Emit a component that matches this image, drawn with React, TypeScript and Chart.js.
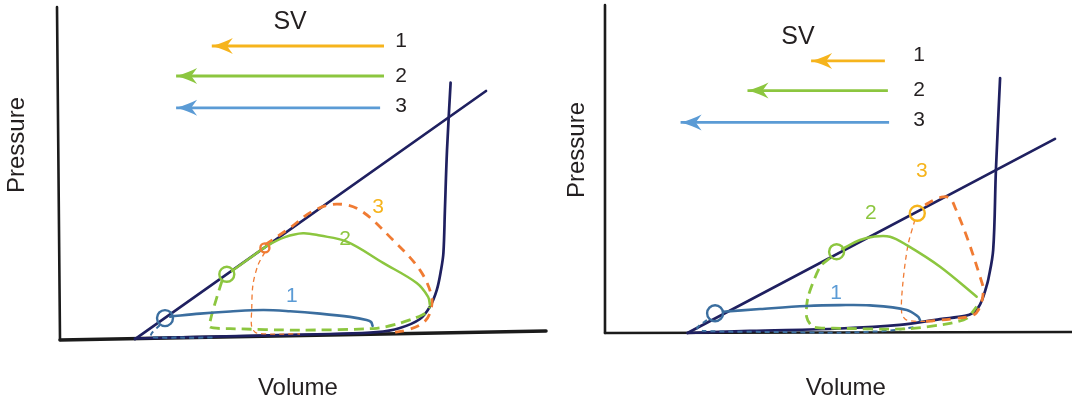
import { useEffect, useRef } from "react";
import { Chart, registerables } from "chart.js";

Chart.register(...registerables);

type Pt = [number, number];

const FONT = '"Liberation Sans", Arial, Helvetica, sans-serif';
const INK = "#231f20";
const AXIS = "#1b1b1b";
const NAVY = "#1f2060";
const GREEN = "#8cc63f";
const ORANGE = "#f07b33";
const YELLOW = "#f6b41c";
const ARROW_BLUE = "#5b9bd5";
const LOOP_BLUE = "#3b6e9f";
const LABEL_BLUE = "#5b9bd5";

// ---------- Left panel (volume, pressure) ----------
const L_X_AXIS: Pt[] = [[0, 0], [162, 3]];
const L_Y_AXIS: Pt[] = [[0, 0], [-1, 111]];
const L_ESPVR: Pt[] = [[25, 0.3], [142, 83]];
const L_EDPVR: Pt[] = [
  [25, 0.5], [63, 1.4], [90, 2], [105.6, 2.6], [113.3, 4], [120, 7], [123.3, 11.1],
  [125.6, 16.7], [127, 23.3], [127.8, 29], [128.3, 43.3], [129, 63.3], [130.2, 85.8],
];
const L_LOOP1_SOLID: Pt[] = [
  [36.7, 7.8], [46.7, 8.8], [56.7, 9.5], [67.7, 10], [76.7, 9.6], [86.7, 8.8],
  [96.7, 7.7], [102.2, 6.7], [103.7, 6], [104.2, 4.7],
];
const L_LOOP1_DASH: Pt[] = [[33.3, 5], [30.6, 2.3], [30.3, 1], [40, 0.8], [52, 0.8]];
const L_LOOP1_MARK: Pt[] = [[35, 7.3]];
const L_LOOP2_SOLID: Pt[] = [
  [57.3, 23], [63.3, 27.3], [68.9, 31.3], [75, 34.3], [81, 35.6], [86.7, 34.8],
  [95.6, 32.8], [107.7, 25.7], [118.9, 19], [122.7, 14.4], [123.3, 11.7],
];
const L_LOOP2_DASH: Pt[] = [
  [54, 19.7], [52, 13.3], [50.3, 7.3], [50, 4.3], [56.7, 3.8], [80, 3.3],
  [105.6, 3.9], [113.3, 5.6], [118.3, 7.3], [121.7, 8.9], [123.3, 11],
];
const L_LOOP2_MARK: Pt[] = [[55.6, 21.9]];
const L_LOOP3_DASH: Pt[] = [
  [68.3, 31.7], [76.7, 37.4], [84.3, 43], [92.2, 45.3], [100, 43.3], [111, 33.3],
  [120, 23.3], [123.9, 14.4], [123.3, 9], [121, 5.7], [115.6, 3.3], [110, 2.4],
];
const L_LOOP3_THIN: Pt[] = [[68.3, 29.3], [66, 25], [64.3, 18.3], [63.9, 10], [63.9, 4.4], [65.6, 2.3], [80, 2]];
const L_LOOP3_MARK: Pt[] = [[68.3, 30.7]];
const L_SV1: Pt[] = [[50.6, 98], [108, 98]];
const L_SV2: Pt[] = [[38.7, 88], [108, 88]];
const L_SV3: Pt[] = [[38.7, 77.4], [106.7, 77.4]];

// ---------- Right panel (volume, pressure) ----------
const R_X_AXIS: Pt[] = [[0, 0], [156, 0.3]];
const R_Y_AXIS: Pt[] = [[0, 0], [0, 109.3]];
const R_ESPVR: Pt[] = [[27.5, 0], [150, 64.7]];
const R_EDPVR: Pt[] = [
  [27.7, 0], [48.3, 0.7], [78.3, 1.5], [98.3, 2.7], [111.7, 4.6], [120, 5.7], [122.7, 6.7],
  [124.3, 8.3], [125.7, 11], [127, 15], [127.8, 18], [129.4, 27.7], [130.3, 54.1], [131.7, 85],
];
const R_LOOP1_SOLID: Pt[] = [
  [39.3, 7.1], [51.7, 8], [67.2, 9], [78.3, 9.3], [88.3, 9.2], [100.6, 7.7], [104.4, 5.4], [105, 4.3],
];
const R_LOOP1_DASH: Pt[] = [[34, 4.3], [30.7, 1.7], [32.7, 0.7], [60, 0.3], [78.3, 0.1], [95, 0.8], [104, 2.1]];
const R_LOOP1_MARK: Pt[] = [[36.7, 6.6]];
const R_LOOP2_SOLID: Pt[] = [
  [79, 28], [85, 31], [89.4, 32.1], [95, 32.1], [100.6, 29.3], [111.7, 22.1], [123.9, 12.1],
];
const R_LOOP2_DASH: Pt[] = [
  [75, 25], [71.7, 22.1], [67.7, 12.1], [67.2, 5.4], [69.3, 2.1], [76, 1.6],
  [100.6, 1.4], [115, 3.2], [120.6, 4.9], [123.9, 8.8],
];
const R_LOOP2_MARK: Pt[] = [[77.2, 27.1]];
const R_LOOP3_DASH: Pt[] = [
  [106.7, 42.7], [110, 44.5], [112.8, 45.4], [115, 45], [116.8, 41.6], [120.6, 32.1],
  [125, 18.8], [126.1, 14.3], [125, 8.8], [122.8, 6], [117.2, 4.9], [106, 3.8],
];
const R_LOOP3_THIN: Pt[] = [[103.3, 37.7], [101, 29.3], [99.3, 16.7], [98.9, 6.6], [100.6, 4.3], [109.3, 3.8]];
const R_LOOP3_MARK: Pt[] = [[104.1, 39.9]];
const R_SV1: Pt[] = [[68.7, 90.7], [93.3, 90.7]];
const R_SV2: Pt[] = [[47.5, 80.8], [94.3, 80.8]];
const R_SV3: Pt[] = [[25.2, 70.2], [94.7, 70.2]];

type Label = { text: string; at: Pt; color: string; size: number; rotate?: boolean };

const L_LABELS: Label[] = [
  { text: "SV", at: [76.7, 106], color: INK, size: 25 },
  { text: "1", at: [113.7, 99.7], color: INK, size: 21 },
  { text: "2", at: [113.7, 88], color: INK, size: 21 },
  { text: "3", at: [113.7, 78], color: INK, size: 21 },
  { text: "1", at: [77.3, 14.7], color: LABEL_BLUE, size: 21 },
  { text: "2", at: [95, 33.7], color: GREEN, size: 21 },
  { text: "3", at: [106, 44.4], color: YELLOW, size: 21 },
  { text: "Pressure", at: [-14.2, 65], color: INK, size: 24, rotate: true },
  { text: "Volume", at: [79.3, -16], color: INK, size: 24 },
];

const R_LABELS: Label[] = [
  { text: "SV", at: [64.3, 98.7], color: INK, size: 25 },
  { text: "1", at: [104.7, 92.7], color: INK, size: 21 },
  { text: "2", at: [104.7, 81], color: INK, size: 21 },
  { text: "3", at: [104.7, 71], color: INK, size: 21 },
  { text: "1", at: [77, 13.3], color: LABEL_BLUE, size: 21 },
  { text: "2", at: [88.6, 39.9], color: GREEN, size: 21 },
  { text: "3", at: [105.6, 53.8], color: YELLOW, size: 21 },
  { text: "Pressure", at: [-9.3, 61], color: INK, size: 24, rotate: true },
  { text: "Volume", at: [80.3, -18.3], color: INK, size: 24 },
];

type Panel = {
  width: number;
  xRange: [number, number];
  yRange: [number, number];
  xAxis: Pt[]; yAxis: Pt[]; xAxisWidth: number;
  espvr: Pt[]; edpvr: Pt[];
  loop1Solid: Pt[]; loop1Dash: Pt[]; loop1Mark: Pt[];
  loop2Solid: Pt[]; loop2Dash: Pt[]; loop2Mark: Pt[];
  loop3Dash: Pt[]; loop3Thin: Pt[]; loop3Mark: Pt[]; loop3MarkColor: string; loop3MarkRadius: number;
  sv1: Pt[]; sv2: Pt[]; sv3: Pt[];
  labels: Label[];
};

const LEFT: Panel = {
  width: 556, xRange: [-20, 165.33], yRange: [-22, 113.33],
  xAxis: L_X_AXIS, yAxis: L_Y_AXIS, xAxisWidth: 3.5,
  espvr: L_ESPVR, edpvr: L_EDPVR,
  loop1Solid: L_LOOP1_SOLID, loop1Dash: L_LOOP1_DASH, loop1Mark: L_LOOP1_MARK,
  loop2Solid: L_LOOP2_SOLID, loop2Dash: L_LOOP2_DASH, loop2Mark: L_LOOP2_MARK,
  loop3Dash: L_LOOP3_DASH, loop3Thin: L_LOOP3_THIN, loop3Mark: L_LOOP3_MARK,
  loop3MarkColor: ORANGE, loop3MarkRadius: 4.5,
  sv1: L_SV1, sv2: L_SV2, sv3: L_SV3,
  labels: L_LABELS,
};

const RIGHT: Panel = {
  width: 516, xRange: [-16.33, 155.67], yRange: [-24.33, 111],
  xAxis: R_X_AXIS, yAxis: R_Y_AXIS, xAxisWidth: 2.5,
  espvr: R_ESPVR, edpvr: R_EDPVR,
  loop1Solid: R_LOOP1_SOLID, loop1Dash: R_LOOP1_DASH, loop1Mark: R_LOOP1_MARK,
  loop2Solid: R_LOOP2_SOLID, loop2Dash: R_LOOP2_DASH, loop2Mark: R_LOOP2_MARK,
  loop3Dash: R_LOOP3_DASH, loop3Thin: R_LOOP3_THIN, loop3Mark: R_LOOP3_MARK,
  loop3MarkColor: YELLOW, loop3MarkRadius: 7.5,
  sv1: R_SV1, sv2: R_SV2, sv3: R_SV3,
  labels: R_LABELS,
};

const toXY = (pts: Pt[]) => pts.map(([x, y]) => ({ x, y }));

function line(pts: Pt[], color: string, width: number, extra: Record<string, unknown> = {}) {
  return {
    data: toXY(pts),
    showLine: true,
    borderColor: color,
    backgroundColor: color,
    borderWidth: width,
    pointRadius: 0,
    tension: 0.35,
    borderCapStyle: "round",
    borderJoinStyle: "round",
    ...extra,
  };
}

function marker(pts: Pt[], color: string, radius: number) {
  return {
    data: toXY(pts),
    showLine: false,
    pointRadius: radius,
    pointBorderWidth: 2.4,
    pointBorderColor: color,
    pointBackgroundColor: "rgba(0,0,0,0)",
  };
}

// Filled barbed arrowhead at the first point of any dataset flagged with arrowHead.
const arrowHeadPlugin = {
  id: "arrowHead",
  afterDatasetsDraw(chart: any) {
    const ctx = chart.ctx as CanvasRenderingContext2D;
    chart.data.datasets.forEach((ds: any, i: number) => {
      if (!ds.arrowHead) return;
      const meta = chart.getDatasetMeta(i);
      const tip = meta.data[0];
      const from = meta.data[1];
      const ang = Math.atan2(tip.y - from.y, tip.x - from.x);
      const L = 21;
      const W = 8;
      ctx.save();
      ctx.translate(tip.x, tip.y);
      ctx.rotate(ang);
      ctx.beginPath();
      ctx.moveTo(0, 0);
      ctx.quadraticCurveTo(-L * 0.6, -W * 0.45, -L, -W);
      ctx.lineTo(-L * 0.72, 0);
      ctx.lineTo(-L, W);
      ctx.quadraticCurveTo(-L * 0.6, W * 0.45, 0, 0);
      ctx.closePath();
      ctx.fillStyle = ds.borderColor;
      ctx.fill();
      ctx.restore();
    });
  },
};

// Text placed in data units through the chart's own scales.
const panelTextPlugin = {
  id: "panelText",
  afterDraw(chart: any, _args: any, opts: any) {
    const ctx = chart.ctx as CanvasRenderingContext2D;
    const xs = chart.scales.x;
    const ys = chart.scales.y;
    (opts.items as Label[]).forEach((lb) => {
      const px = xs.getPixelForValue(lb.at[0]);
      const py = ys.getPixelForValue(lb.at[1]);
      ctx.save();
      ctx.translate(px, py);
      if (lb.rotate) ctx.rotate(-Math.PI / 2);
      ctx.font = `${lb.size}px ${FONT}`;
      ctx.fillStyle = lb.color;
      ctx.textAlign = "center";
      ctx.textBaseline = "middle";
      ctx.fillText(lb.text, 0, 0);
      ctx.restore();
    });
  },
};

function buildDatasets(p: Panel) {
  // listed bottom to top; Chart.js paints the first dataset last
  const bottomToTop: any[] = [
    line(p.yAxis, AXIS, 2.6, { tension: 0 }),
    line(p.xAxis, AXIS, p.xAxisWidth, { tension: 0 }),
    line(p.edpvr, NAVY, 2.7),
    line(p.espvr, NAVY, 2.7, { tension: 0 }),
    line(p.loop1Dash, LOOP_BLUE, 2, { borderDash: [5, 4], borderCapStyle: "butt", tension: 0.25 }),
    line(p.loop3Thin, ORANGE, 1.3, { borderDash: [5, 4], borderCapStyle: "butt", tension: 0.3 }),
    line(p.loop2Dash, GREEN, 2.8, { borderDash: [10, 6], borderCapStyle: "butt", tension: 0.25 }),
    line(p.loop3Dash, ORANGE, 2.8, { borderDash: [9, 7], borderCapStyle: "butt" }),
    line(p.loop1Solid, LOOP_BLUE, 2.6),
    line(p.loop2Solid, GREEN, 2.5),
    marker(p.loop1Mark, LOOP_BLUE, 8),
    marker(p.loop2Mark, GREEN, 7.5),
    marker(p.loop3Mark, p.loop3MarkColor, p.loop3MarkRadius),
    line(p.sv1, YELLOW, 2.8, { tension: 0, borderCapStyle: "butt", arrowHead: true }),
    line(p.sv2, GREEN, 2.8, { tension: 0, borderCapStyle: "butt", arrowHead: true }),
    line(p.sv3, ARROW_BLUE, 2.8, { tension: 0, borderCapStyle: "butt", arrowHead: true }),
  ];
  return bottomToTop.reverse();
}

function PvPanel({ panel }: { panel: Panel }) {
  const ref = useRef<HTMLCanvasElement | null>(null);
  useEffect(() => {
    if (!ref.current) return;
    const chart = new Chart(ref.current, {
      type: "scatter",
      data: { datasets: buildDatasets(panel) },
      options: {
        responsive: false,
        animation: false,
        devicePixelRatio: 1,
        layout: { padding: 0, autoPadding: false },
        events: [],
        scales: {
          x: { type: "linear", min: panel.xRange[0], max: panel.xRange[1], display: false },
          y: { type: "linear", min: panel.yRange[0], max: panel.yRange[1], display: false },
        },
        plugins: {
          legend: { display: false },
          tooltip: { enabled: false },
          panelText: { items: panel.labels },
        } as any,
      },
      plugins: [arrowHeadPlugin, panelTextPlugin],
    } as any);
    return () => chart.destroy();
  }, [panel]);
  return <canvas ref={ref} width={panel.width} height={406} style={{ display: "block" }} />;
}

export default function App() {
  return (
    <div
      style={{
        position: "absolute",
        left: 0,
        top: 0,
        width: 1072,
        height: 406,
        display: "flex",
        background: "#ffffff",
      }}
    >
      <PvPanel panel={LEFT} />
      <PvPanel panel={RIGHT} />
    </div>
  );
}
